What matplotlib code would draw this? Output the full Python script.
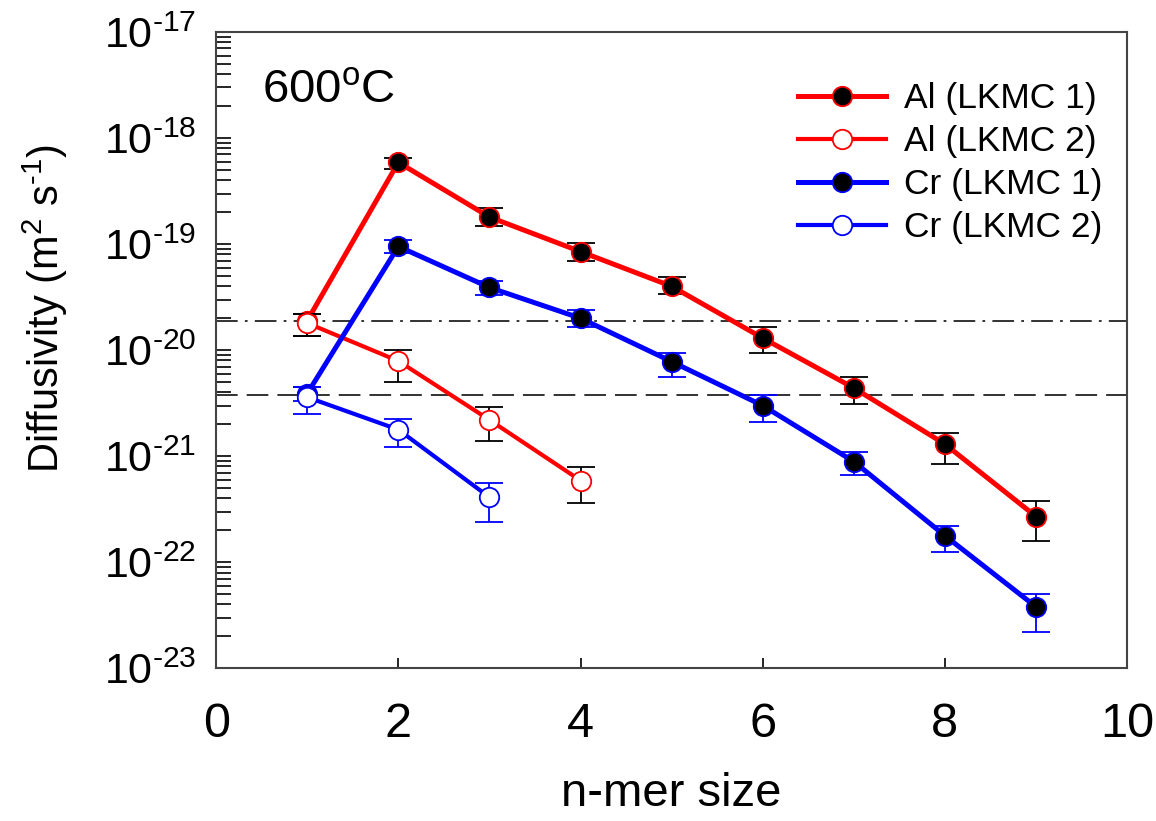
import numpy as np
import matplotlib
matplotlib.use('Agg')
import matplotlib.pyplot as plt
from matplotlib.ticker import FixedLocator, FixedFormatter, LogLocator, NullFormatter

plt.rcParams['font.family'] = ['Liberation Sans', 'DejaVu Sans']
plt.rcParams['mathtext.fontset'] = 'custom'
plt.rcParams['mathtext.rm'] = 'Liberation Sans'
plt.rcParams['mathtext.it'] = 'Liberation Sans:italic'
plt.rcParams['mathtext.default'] = 'regular'

# n-mer sizes and diffusivities (m^2/s), with upper / lower ends of error bars
n_al1 = [1, 2, 3, 4, 5, 6, 7, 8, 9]
d_al1 = [1.9e-20, 5.9e-19, 1.8e-19, 8.5e-20, 4.0e-20, 1.3e-20, 4.4e-21, 1.3e-21, 2.7e-22]
hi_al1 = [2.2e-20, 6.5e-19, 2.2e-19, 1.02e-19, 4.9e-20, 1.66e-20, 5.6e-21, 1.66e-21, 3.8e-22]
lo_al1 = [1.35e-20, 5.1e-19, 1.48e-19, 6.9e-20, 3.4e-20, 9.5e-21, 3.1e-21, 8.5e-22, 1.6e-22]

n_al2 = [1, 2, 3, 4]
d_al2 = [1.8e-20, 7.9e-21, 2.2e-21, 5.9e-22]
hi_al2 = [2.2e-20, 1.0e-20, 2.9e-21, 7.9e-22]
lo_al2 = [1.35e-20, 5.0e-21, 1.38e-21, 3.6e-22]

n_cr1 = [1, 2, 3, 4, 5, 6, 7, 8, 9]
d_cr1 = [3.9e-21, 9.5e-20, 3.9e-20, 2.0e-20, 7.8e-21, 3.0e-21, 8.9e-22, 1.78e-22, 3.8e-23]
hi_cr1 = [4.5e-21, 1.1e-19, 4.5e-20, 2.4e-20, 9.3e-21, 3.8e-21, 1.1e-21, 2.2e-22, 5.0e-23]
lo_cr1 = [3.3e-21, 8.3e-20, 3.3e-20, 1.66e-20, 5.6e-21, 2.1e-21, 6.6e-22, 1.26e-22, 2.2e-23]

n_cr2 = [1, 2, 3]
d_cr2 = [3.6e-21, 1.78e-21, 4.1e-22]
hi_cr2 = [4.5e-21, 2.24e-21, 5.6e-22]
lo_cr2 = [2.5e-21, 1.23e-21, 2.4e-22]

# reference levels
ref_dashdot = 1.9e-20
ref_dashed = 3.8e-21

x_ticks = [0, 2, 4, 6, 8, 10]
y_exps = [-23, -22, -21, -20, -19, -18, -17]


def yerr(d, hi, lo):
    d = np.array(d)
    return [d - np.array(lo), np.array(hi) - d]


fig = plt.figure(figsize=(11.56, 8.21), dpi=100)
ax = fig.add_axes([0.187, 0.186, 0.788, 0.775])

ax.axhline(ref_dashdot, color='#222222', lw=1.3, dashes=(12, 4, 1.5, 4), zorder=1)
ax.axhline(ref_dashed, color='#222222', lw=1.3, dashes=(12, 5), zorder=1)

series = [
    (n_al1, d_al1, hi_al1, lo_al1, 'red', 'black', 'k', 3.6, 'Al (LKMC 1)'),
    (n_al2, d_al2, hi_al2, lo_al2, 'red', 'white', 'k', 3.0, 'Al (LKMC 2)'),
    (n_cr1, d_cr1, hi_cr1, lo_cr1, 'blue', 'black', 'blue', 3.6, 'Cr (LKMC 1)'),
    (n_cr2, d_cr2, hi_cr2, lo_cr2, 'blue', 'white', 'blue', 3.0, 'Cr (LKMC 2)'),
]
handles = []
for z, (n, d, hi, lo, c, fc, ec, lw, lab) in enumerate(series):
    ax.errorbar(n, d, yerr=yerr(d, hi, lo), fmt='none', ecolor=ec,
                elinewidth=1.3, capsize=10, capthick=1.3, zorder=2 + z)
    h, = ax.plot(n, d, '-o', color=c, lw=lw, ms=14, mfc=fc, mec=c, mew=1.3,
                 label=lab, zorder=3 + z)
    handles.append(h)

ax.set_yscale('log')
ax.set_xlim(0, 10)
ax.set_ylim(1e-23, 1e-17)
ax.xaxis.set_major_locator(FixedLocator(x_ticks))
ax.set_xticklabels([str(t) for t in x_ticks])
ax.yaxis.set_major_locator(FixedLocator([10.0 ** e for e in y_exps]))
ax.yaxis.set_major_formatter(FixedFormatter([r'$10^{\text{-%d}}$' % -e for e in y_exps]))
ax.yaxis.set_minor_locator(LogLocator(base=10, subs=np.arange(2, 10), numticks=20))
ax.yaxis.set_minor_formatter(NullFormatter())

ax.tick_params(axis='x', which='both', direction='in', length=7, width=1.2,
               labelsize=35, pad=24, top=False)
ax.tick_params(axis='y', which='both', direction='in', length=11, width=1.2,
               labelsize=31, pad=14, right=False)
for s in ax.spines.values():
    s.set_color('#444444')
    s.set_linewidth(1.5)

ax.set_xlabel('n-mer size', fontsize=34, labelpad=18)
ax.set_ylabel(r'Diffusivity (m$^2$ s$^{\text{-1}}$)', fontsize=30)
ax.yaxis.set_label_coords(-0.16, 0.565)

ax.text(0.05, 0.89, r'600$^o$C', transform=ax.transAxes, fontsize=34)

ax.legend(handles=handles, loc='upper right', bbox_to_anchor=(1.0, 0.96),
          frameon=False, fontsize=25.5, handlelength=2.5, handletextpad=0.5,
          labelspacing=0.28, borderaxespad=0.3)

fig.savefig('out.png', dpi=100)
